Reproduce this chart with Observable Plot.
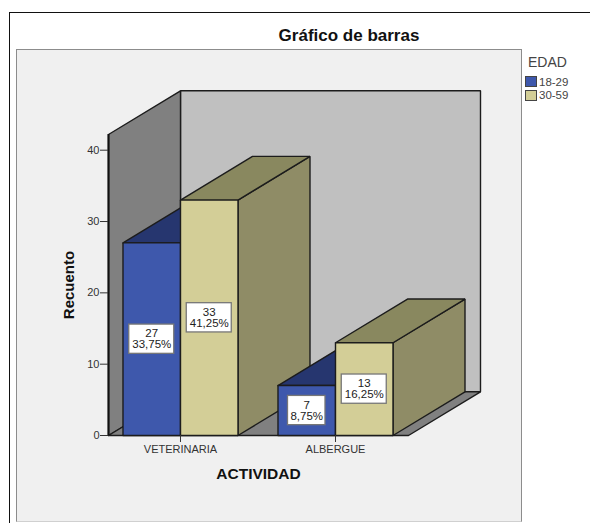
<!DOCTYPE html>
<html><head><meta charset="utf-8">
<script src="https://cdn.jsdelivr.net/npm/d3@7"></script>
<script src="https://cdn.jsdelivr.net/npm/@observablehq/plot@0.6"></script>
<style>
html,body{margin:0;padding:0;background:#fff;overflow:hidden}
#page{position:relative;width:590px;height:523px;font-family:"Liberation Sans",Arial,sans-serif;overflow:hidden}
#outer{position:absolute;left:9px;top:12px;width:600px;height:600px;border:1.5px solid #111;box-sizing:border-box}
#panel{position:absolute;left:16px;top:49px;width:505.5px;height:473px;background:#f0f0f0;border:1.5px solid #8c8c8c;border-bottom-color:#d0d0d0;box-sizing:border-box}
#chart{position:absolute;left:0;top:0}
#chart svg{background:transparent;display:block}
#title{position:absolute;left:249px;width:200px;top:26px;text-align:center;font-weight:bold;font-size:17px;line-height:20px;color:#111}
#legend{position:absolute;left:525px;top:54px;color:#444}
#legend .h{font-size:14px;margin-left:3px;margin-bottom:5px;line-height:16px}
#legend .r{display:flex;align-items:center;font-size:11.5px;height:13.5px}
#legend .s{width:10px;height:9px;border:1px solid #444;margin-right:2px}
</style></head>
<body>
<div id="page">
  <div id="outer"></div>
  <div id="panel"></div>
  <div id="title">Gráfico de barras</div>
  <div id="chart"></div>
  <div id="legend"></div>
</div>
<script>
const categories = ["VETERINARIA", "ALBERGUE"];
const groups = ["18-29", "30-59"];
const counts1829 = [27, 7];
const counts3059 = [33, 13];
const pct1829 = ["33,75%", "8,75%"];
const pct3059 = ["41,25%", "16,25%"];
const yTicks = [0, 10, 20, 30, 40];

const frontColors = ["#3e58ac", "#d3ce97"];
const topColors = ["#26366f", "#89885f"];
const sideColors = ["#26366f", "#8f8c66"];
const wallBack = "#c0c0c0", wallSide = "#808080";

// 3-D projection, in scale units
const barW = 0.371, depthX = 0.4645, depthY = 6.13;
const xMin = -0.4645, xMax = 1.471, yMax = 42.2;

const faces = [];
function face(id, fill, pts) {
  [...pts, pts[0]].forEach(([x, y]) => faces.push({id, fill, x, y}));
}
face("back", wallBack, [[xMin+depthX, depthY], [xMax+depthX, depthY], [xMax+depthX, yMax+depthY], [xMin+depthX, yMax+depthY]]);
face("left", wallSide, [[xMin, 0], [xMin+depthX, depthY], [xMin+depthX, yMax+depthY], [xMin, yMax]]);
face("floor", wallSide, [[xMin, 0], [xMax, 0], [xMax+depthX, depthY], [xMin+depthX, depthY]]);

const boxes = [];
categories.forEach((c, i) => {
  [counts1829[i], counts3059[i]].forEach((v, g) => {
    const x0 = i + (g - 1) * barW, x1 = x0 + barW, k = `${i}-${g}`;
    face("side" + k, sideColors[g], [[x1, 0], [x1+depthX, depthY], [x1+depthX, v+depthY], [x1, v]]);
    face("top" + k, topColors[g], [[x0, v], [x1, v], [x1+depthX, v+depthY], [x0+depthX, v+depthY]]);
    face("front" + k, frontColors[g], [[x0, 0], [x1, 0], [x1, v], [x0, v]]);
    const p = (g ? pct3059 : pct1829)[i];
    const w = (p.length * 7.5) / 155 / 2;
    boxes.push({xc: (x0 + x1) / 2, yc: v / 2, w, label: `${v}\n${p}`});
  });
});

const plot = Plot.plot({
  width: 590, height: 523,
  marginLeft: 108, marginRight: 182, marginTop: 134, marginBottom: 88,
  style: {fontFamily: '"Liberation Sans",Arial,sans-serif', background: "transparent"},
  x: {domain: [xMin, xMax]},
  y: {domain: [0, yMax]},
  marks: [
    Plot.line(faces, {x: "x", y: "y", z: "id", fill: "fill", stroke: "#1c1c1c", strokeWidth: 1.4, strokeLinejoin: "miter"}),
    Plot.ruleX([xMin], {y1: 0, y2: yMax, stroke: "#111", strokeWidth: 2}),
    Plot.rect(boxes, {x1: d => d.xc - d.w, x2: d => d.xc + d.w, y1: d => d.yc - 2.05, y2: d => d.yc + 2.05, fill: "#fff", stroke: "#777", strokeWidth: 1.3}),
    Plot.text(boxes, {x: "xc", y: "yc", text: "label", fontSize: 11.5, lineHeight: 0.97, fill: "#222"}),
    Plot.axisY({ticks: yTicks, tickSize: 8, tickPadding: 1, fontSize: 11, color: "#333", label: null, anchor: "left"}),
    Plot.axisY({ticks: [], label: "Recuento", labelAnchor: "center", labelArrow: "none", labelOffset: 45, fontSize: 15, fontWeight: "bold", color: "#111", anchor: "left"}),
    Plot.axisX({ticks: [0, 1], tickFormat: i => categories[i], tickSize: 7, tickPadding: 3, fontSize: 11, color: "#333", label: null}),
    Plot.axisX({ticks: [], label: "ACTIVIDAD", labelAnchor: "center", labelArrow: "none", labelOffset: 43, fontSize: 15.5, fontWeight: "bold", color: "#111"})
  ]
});
document.getElementById("chart").append(plot);

const lg = document.getElementById("legend");
lg.innerHTML = `<div class="h">EDAD</div>` + groups.map((g, i) =>
  `<div class="r"><span class="s" style="background:${frontColors[i]}"></span>${g}</div>`).join("");
</script>
</body></html>
